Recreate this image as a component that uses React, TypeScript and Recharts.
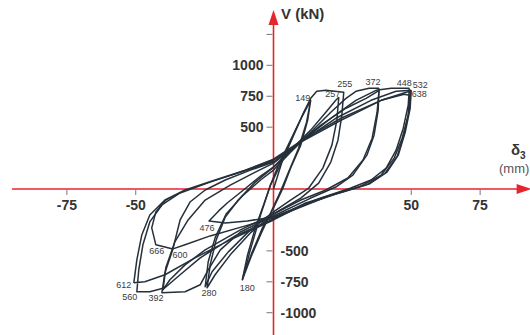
import React from 'react';
import { ComposedChart, Line, Scatter, XAxis, YAxis, ReferenceLine } from 'recharts';

// hysteresis branches: [delta3 (mm), V (kN)]
const cycle149: [number, number][] = [
  [0, 0], [3.3, 234], [7.3, 435], [11.0, 620], [13.5, 717],
  [12.4, 556], [9.9, 355], [6.2, 169], [3.3, 0], [0, -153], [-4.0, -314], [-7.7, -508], [-10.2, -653], [-11.3, -733],
  [-9.5, -540], [-6.6, -314], [-3.6, -129], [-1.1, 32], [1.8, 193], [6.2, 395], [10.6, 596], [13.5, 717],
  [12.0, 540], [9.1, 330], [5.5, 140], [2.6, -16], [-0.7, -177], [-4.4, -355], [-8.0, -540], [-10.6, -693], [-11.3, -733],
];

const cycle255: [number, number][] = [
  [-11.3, -733], [-8.4, -492], [-4.7, -210], [-1.1, 32], [3.3, 234], [8.0, 476], [11.7, 653], [13.5, 733], [15.7, 790], [19.0, 798], [25.5, 782],
  [24.8, 596], [23.4, 395], [20.8, 218], [16.4, 48], [9.9, -73], [0, -202], [-8.4, -355], [-15.7, -532], [-21.2, -693], [-24.1, -798],
  [-23.0, -613], [-20.8, -411], [-17.5, -226], [-12.8, -89], [-6.6, 56], [0, 177], [6.2, 314], [13.5, 476], [19.0, 621], [22.6, 717], [23.7, 742],
];

const cycle257: [number, number][] = [
  [23.7, 742], [23.0, 556], [21.2, 355], [17.9, 169], [12.8, 8], [6.2, -89], [0, -185], [-8.4, -330], [-16.4, -508], [-22.3, -669], [-24.8, -790],
  [-23.7, -588], [-21.2, -395], [-17.2, -202], [-11.3, -56], [-4.7, 73], [0, 153], [6.2, 298], [13.5, 459], [20.8, 621], [26.3, 733], [29.9, 790], [34.7, 814], [38.3, 814],
];

const cycle372: [number, number][] = [
  [38.3, 814], [38.0, 637], [36.5, 435], [33.9, 274], [28.8, 113], [22.6, 16], [13.5, -73], [0, -218], [-12.0, -347], [-19.3, -492], [-23.7, -653], [-26.6, -774], [-32.1, -830], [-40.5, -838],
  [-39.4, -677], [-36.5, -484], [-33.9, -250], [-30.3, -105], [-24.8, -8], [-17.5, 73], [-8.4, 153], [0, 218], [8.0, 355], [17.2, 516], [26.3, 653], [33.6, 733], [37.2, 782], [38.3, 798],
];

const cycle372b: [number, number][] = [
  [38.3, 798], [37.6, 621], [35.8, 411], [32.5, 234], [27.0, 89], [19.0, -8], [9.9, -89], [0, -202], [-12.0, -330], [-24.8, -492], [-32.1, -613], [-37.6, -733], [-40.1, -814],
  [-39.1, -637], [-35.8, -427], [-31.0, -250], [-24.8, -89], [-15.7, 32], [-6.6, 137], [0, 210], [9.9, 379], [20.8, 572], [29.9, 717], [37.2, 798], [42.7, 814], [49.3, 814],
];

const cycle448: [number, number][] = [
  [49.3, 814], [48.9, 677], [47.1, 492], [44.5, 314], [40.9, 169], [35.4, 73], [28.1, 8], [17.2, -73], [0, -226], [-9.5, -258], [-17.5, -274], [-23.4, -258],
  [-19.9, -177], [-16.8, -113], [-10.9, -8], [-4.7, 105], [0, 177], [9.9, 379], [22.6, 572], [35.4, 717], [44.5, 790], [50.0, 798],
];

const cycle532: [number, number][] = [
  [50.0, 798], [49.6, 653], [47.8, 459], [45.3, 274], [41.2, 137], [34.7, 40], [24.5, -24], [11.7, -113], [0, -242], [-13.9, -379], [-26.6, -556], [-33.9, -693], [-39.4, -798], [-44.9, -830], [-49.6, -830],
  [-48.9, -653], [-47.4, -451], [-44.9, -266], [-40.5, -129], [-33.9, -32], [-23.0, 56], [-12.0, 137], [0, 234], [9.9, 379], [24.5, 556], [39.1, 717], [48.2, 782], [49.6, 790],
  [49.3, 637], [47.4, 443], [44.9, 266], [40.5, 129], [33.6, 32], [22.6, -40], [9.9, -137], [0, -250], [-15.7, -411], [-28.5, -556], [-39.4, -693], [-46.7, -750], [-50.7, -758],
];

const cycle612: [number, number][] = [
  [-50.7, -758], [-49.6, -572], [-47.8, -371], [-44.9, -210], [-39.4, -89], [-32.1, -8], [-21.2, 73], [-10.2, 153], [0, 242], [9.9, 387], [24.5, 572], [39.1, 717], [47.4, 766], [49.3, 758],
  [48.9, 596], [46.7, 411], [43.8, 250], [39.1, 113], [31.0, 16], [19.0, -64], [0, -234], [-10.2, -298], [-23.0, -379], [-32.1, -451], [-36.5, -484], [-42.7, -451],
  [-44.2, -314], [-42.7, -185], [-39.1, -89], [-32.1, -8], [-21.2, 73], [-8.4, 161], [0, 226],
];

const branches = [cycle149, cycle255, cycle257, cycle372, cycle372b, cycle448, cycle532, cycle612];

// step numbers written at the turning points
const stepNames = ['149', '255', '257', '372', '448', '532', '638', '180', '280', '392', '560', '612', '666', '600', '476'];
const stepX = [13.5, 25.5, 23.7, 38.3, 49.3, 50.0, 49.3, -11.3, -24.1, -40.5, -49.6, -50.7, -42.7, -36.5, -23.4];
const stepY = [717, 782, 742, 814, 814, 798, 758, -733, -798, -838, -830, -758, -451, -484, -258];

const xTicks = [-75, -50, 50, 75];
const yTicks = [1250, 1000, 750, 500, -500, -750, -1000];
const yTickLabels = ['', '1000', '750', '500', '-500', '-750', '-1000'];

const RED = '#e4252c';
const INK = '#25303a';

const labelShift: Record<string, [number, number]> = {
  '149': [-8, -2], '255': [1, -8], '257': [-6, -3], '372': [-6, -6], '448': [-5, -5], '532': [9, -5], '638': [10, -1],
  '180': [5, 8], '280': [2, 5], '392': [-6, 5], '560': [-7, 5], '612': [-10, 2], '666': [1, 6], '600': [7, 6], '476': [-2, 7],
};

const toPts = (arr: [number, number][]) => arr.map(([x, y]) => ({ x, y }));
const stepData = stepNames.map((name, i) => ({ name, x: stepX[i], y: stepY[i] }));
const xTickData = xTicks.map((v) => ({ x: v, y: 0, label: String(v) }));
const yTickData = yTicks.map((v, i) => ({ x: 0, y: v, label: yTickLabels[i] }));

const StepLabel = (p: any) => {
  const [dx, dy] = labelShift[p.payload.name] || [0, 0];
  return (
    <text x={p.cx + dx} y={p.cy + dy} textAnchor="middle" dominantBaseline="central"
      fontSize={9} fill="#3c3c3c" fontFamily="Liberation Sans, Arial, sans-serif">
      {p.payload.name}
    </text>
  );
};

const XTick = (p: any) => (
  <g>
    <line x1={p.cx} y1={p.cy + 1} x2={p.cx} y2={p.cy + 6} stroke="#777" strokeWidth={1} />
    <text x={p.cx} y={p.cy + 16} textAnchor="middle" dominantBaseline="central"
      fontSize={14} fontWeight="bold" fill="#333" fontFamily="Liberation Sans, Arial, sans-serif">
      {p.payload.label}
    </text>
  </g>
);

const YTick = (p: any) => {
  const neg = p.payload.y < 0;
  return (
    <g>
      <line x1={p.cx - 7} y1={p.cy} x2={p.cx - 1} y2={p.cy} stroke="#777" strokeWidth={1} />
      <text x={neg ? p.cx + 7 : p.cx - 10} y={p.cy} textAnchor={neg ? 'start' : 'end'} dominantBaseline="central"
        fontSize={14} fontWeight="bold" fill="#333" fontFamily="Liberation Sans, Arial, sans-serif">
        {p.payload.label}
      </text>
    </g>
  );
};

const VAxis = (p: any) => {
  const top = Math.min(p.y1, p.y2);
  const bot = Math.max(p.y1, p.y2);
  return (
    <g>
      <line x1={p.x1} y1={top + 10} x2={p.x1} y2={bot} stroke={RED} strokeWidth={1.6} />
      <polygon points={`${p.x1},${top} ${p.x1 - 5},${top + 15} ${p.x1 + 5},${top + 15}`} fill={RED} />
    </g>
  );
};

const HAxis = (p: any) => {
  const left = Math.min(p.x1, p.x2);
  const right = Math.max(p.x1, p.x2);
  return (
    <g>
      <line x1={left} y1={p.y1} x2={right - 10} y2={p.y1} stroke={RED} strokeWidth={1.6} />
      <polygon points={`${right + 3},${p.y1} ${right - 12},${p.y1 - 5} ${right - 12},${p.y1 + 5}`} fill={RED} />
    </g>
  );
};

export default function App() {
  return (
    <div style={{ position: 'absolute', left: 0, top: 0, width: 530, height: 335, background: '#fff', overflow: 'hidden' }}>
      <ComposedChart width={530} height={335} margin={{ top: 0, right: 0, bottom: 0, left: 0 }}>
        <XAxis type="number" dataKey="x" domain={[-99.27, 93.1]} hide allowDataOverflow />
        <YAxis type="number" dataKey="y" domain={[-1180, 1528]} hide allowDataOverflow />
        <ReferenceLine segment={[{ x: 0, y: -1180 }, { x: 0, y: 1447 }]} ifOverflow="visible" shape={VAxis} />
        <ReferenceLine segment={[{ x: -94.9, y: 0 }, { x: 92.6, y: 0 }]} ifOverflow="visible" shape={HAxis} />
        {branches.map((b, i) => (
          <Line key={i} data={toPts(b)} dataKey="y" type="linear" dot={false} stroke={INK}
            strokeWidth={1.5} strokeLinejoin="round" isAnimationActive={false} />
        ))}
        <Scatter data={xTickData} dataKey="y" shape={XTick} isAnimationActive={false} />
        <Scatter data={yTickData} dataKey="y" shape={YTick} isAnimationActive={false} />
        <Scatter data={stepData} dataKey="y" shape={StepLabel} isAnimationActive={false} />
      </ComposedChart>
      <div style={{ position: 'absolute', left: 281, top: 5, fontFamily: 'Liberation Sans, Arial, sans-serif', fontWeight: 'bold', fontSize: 15, color: '#333', whiteSpace: 'nowrap' }}>
        V (kN)
      </div>
      <div style={{ position: 'absolute', left: 511, top: 141, lineHeight: '18px', fontFamily: 'Liberation Sans, Arial, sans-serif', fontWeight: 'bold', fontSize: 15, color: '#333', whiteSpace: 'nowrap' }}>
        δ<span style={{ fontSize: 10, position: 'relative', top: 4 }}>3</span>
      </div>
      <div style={{ position: 'absolute', left: 499, top: 162, lineHeight: '14px', fontFamily: 'Liberation Sans, Arial, sans-serif', fontSize: 13, color: '#555', whiteSpace: 'nowrap' }}>
        (mm)
      </div>
    </div>
  );
}
